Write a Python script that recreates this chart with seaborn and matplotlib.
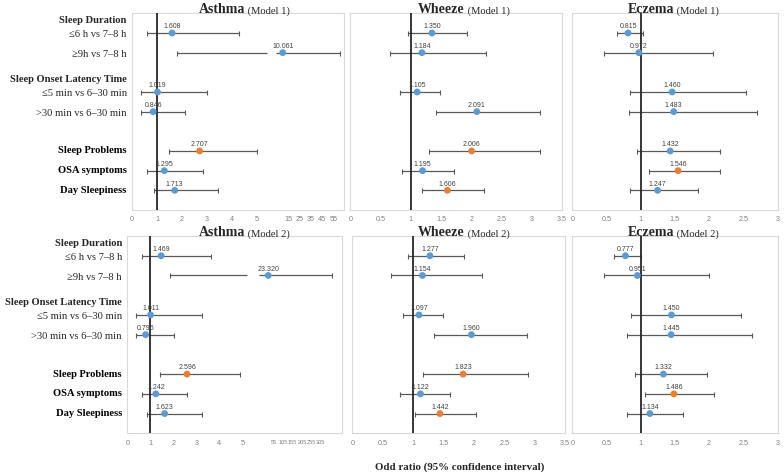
import numpy as np
import pandas as pd
import seaborn as sns
import matplotlib.pyplot as plt
from matplotlib import font_manager

# row labels, grouped the way the figure groups them (None = no group header)
group_names = ['Sleep Duration', 'Sleep Onset Latency Time', None]
group_items = [['≤6 h vs 7–8 h', '≥9h vs 7–8 h'],
               ['≤5 min vs 6–30 min', '>30 min vs 6–30 min'],
               ['Sleep Problems', 'OSA symptoms', 'Day Sleepiness']]

# odds ratios, 95% CI bounds and significance flag (orange) for every panel
asthma_m1_or = [1.608, 10.061, 1.019, 0.846, 2.707, 1.295, 1.713]
asthma_m1_lo = [0.61, 1.81, 0.35, 0.35, 1.48, 0.61, 0.88]
asthma_m1_hi = [4.27, 60.7, 3.01, 2.13, 4.99, 2.85, 3.44]
asthma_m1_sig = [0, 0, 0, 0, 1, 0, 0]

wheeze_m1_or = [1.350, 1.184, 1.105, 2.091, 2.006, 1.195, 1.606]
wheeze_m1_lo = [0.96, 0.66, 0.82, 1.41, 1.30, 0.85, 1.18]
wheeze_m1_hi = [1.93, 2.24, 1.49, 3.13, 3.13, 1.71, 2.21]
wheeze_m1_sig = [0, 0, 0, 0, 1, 0, 1]

eczema_m1_or = [0.815, 0.972, 1.460, 1.483, 1.432, 1.546, 1.247]
eczema_m1_lo = [0.65, 0.46, 0.84, 0.83, 0.95, 1.12, 0.84]
eczema_m1_hi = [1.04, 2.06, 2.54, 2.70, 2.16, 2.16, 1.84]
eczema_m1_sig = [0, 0, 0, 0, 0, 1, 0]

asthma_m2_or = [1.469, 23.320, 1.011, 0.795, 2.596, 1.242, 1.623]
asthma_m2_lo = [0.63, 1.84, 0.36, 0.36, 1.42, 0.63, 0.87]
asthma_m2_hi = [3.65, 364, 3.25, 2.03, 4.90, 2.61, 3.25]
asthma_m2_sig = [0, 0, 0, 0, 1, 0, 0]

wheeze_m2_or = [1.277, 1.154, 1.097, 1.960, 1.823, 1.122, 1.442]
wheeze_m2_lo = [0.91, 0.63, 0.83, 1.34, 1.16, 0.79, 1.03]
wheeze_m2_hi = [1.83, 2.14, 1.49, 2.87, 2.89, 1.61, 2.03]
wheeze_m2_sig = [0, 0, 0, 0, 1, 0, 1]

eczema_m2_or = [0.777, 0.951, 1.450, 1.445, 1.332, 1.486, 1.134]
eczema_m2_lo = [0.61, 0.46, 0.86, 0.80, 0.91, 1.07, 0.80]
eczema_m2_hi = [1.00, 2.00, 2.46, 2.62, 1.97, 2.07, 1.62]
eczema_m2_sig = [0, 0, 0, 0, 0, 1, 0]

asthma_m1_ticks = [0, 1, 2, 3, 4, 5, 15, 25, 35, 45, 55]
asthma_m2_ticks = [0, 1, 2, 3, 4, 5, 55, 105, 155, 205, 255, 305]
wheeze_ticks = [0, 0.5, 1, 1.5, 2, 2.5, 3, 3.5]
eczema_ticks = [0, 0.5, 1, 1.5, 2, 2.5, 3]

BLUE = '#5B9BD5'
ORANGE = '#ED7D31'

sns.set_style('white')
names = {f.name for f in font_manager.fontManager.ttflist}
tick_font = 'Liberation Sans Narrow' if 'Liberation Sans Narrow' in names else 'Liberation Sans'
serif = 'Liberation Serif'


def broken_scale(kx, kp):
    # piecewise linear axis: linear up to 5, compressed above (Excel style break)
    kx = np.asarray(kx, float)
    kp = np.asarray(kp, float)
    return (lambda v: np.interp(v, kx, kp), lambda p: np.interp(p, kp, kx))


scale_m1 = broken_scale([-100, 0, 5, 6, 1000], [-100, 0, 5, 5.85, 5.85 + 0.0455 * 994])
scale_m2 = broken_scale([-100, 0, 5, 6, 10000], [-100, 0, 5, 5.99, 5.99 + 0.00808 * 9994])

# work out the row slots: a blank row between groups
labels, bold, rows, headers = [], [], [], []
slot = 0
for gname, items in zip(group_names, group_items):
    if gname:
        headers.append((gname, slot - 0.6))
    for it in items:
        labels.append(it)
        bold.append(gname is None)
        rows.append(slot)
        slot += 1
    slot += 1

panels = [
    # name, model, or, lo, hi, sig, ticks, xlim, scale, gap, box(px: left, right, top, bottom), title x
    ('Asthma', 1, asthma_m1_or, asthma_m1_lo, asthma_m1_hi, asthma_m1_sig, asthma_m1_ticks, (0, 64), scale_m1, (5.46, 5.91), (132, 344, 13.3, 210), 0.316),
    ('Wheeze', 1, wheeze_m1_or, wheeze_m1_lo, wheeze_m1_hi, wheeze_m1_sig, wheeze_ticks, (0, 3.5), None, None, (350.3, 562, 13.3, 210), 0.32),
    ('Eczema', 1, eczema_m1_or, eczema_m1_lo, eczema_m1_hi, eczema_m1_sig, eczema_ticks, (0, 3), None, None, (572.3, 777.5, 13.3, 210), 0.27),
    ('Asthma', 2, asthma_m2_or, asthma_m2_lo, asthma_m2_hi, asthma_m2_sig, asthma_m2_ticks, (0, 422), scale_m2, (5.23, 5.74), (127.3, 342.3, 236, 433.3), 0.333),
    ('Wheeze', 2, wheeze_m2_or, wheeze_m2_lo, wheeze_m2_hi, wheeze_m2_sig, wheeze_ticks, (0, 3.5), None, None, (352.3, 565, 236, 433.3), 0.309),
    ('Eczema', 2, eczema_m2_or, eczema_m2_lo, eczema_m2_hi, eczema_m2_sig, eczema_ticks, (0, 3), None, None, (572.3, 777.5, 236, 433.3), 0.27),
]

W, H = 784, 475
fig = plt.figure(figsize=(W / 100, H / 100), dpi=100)

for (name, model, ors, lo, hi, sig, ticks, xlim, scale, gap, box, tx) in panels:
    l, r, t, b = box
    ax = fig.add_axes([l / W, 1 - b / H, (r - l) / W, (b - t) / H])
    df = pd.DataFrame({'or': ors, 'lo': lo, 'hi': hi, 'sig': sig, 'row': rows})

    if scale is not None:
        ax.set_xscale('function', functions=scale)

    ax.errorbar(df['or'], df['row'], xerr=[df['or'] - df['lo'], df['hi'] - df['or']],
                fmt='none', ecolor='#595959', elinewidth=0.9, capsize=1.8, capthick=0.8, zorder=2)
    if gap is not None:
        for _, rw in df[(df['lo'] < gap[0]) & (df['hi'] > gap[1])].iterrows():
            ax.plot(gap, [rw['row'], rw['row']], color='white', lw=2.5,
                    solid_capstyle='butt', zorder=2.5)
    ax.axvline(1, color='#262626', lw=1.3, zorder=3)
    sns.scatterplot(data=df, x='or', y='row', hue='sig', palette={0: BLUE, 1: ORANGE},
                    s=24, linewidth=0, marker='o', legend=False, ax=ax, zorder=4)
    for _, rw in df.iterrows():
        ax.annotate(f"{rw['or']:.3f}", (rw['or'], rw['row']), xytext=(0, 4.4),
                    textcoords='offset points', ha='center', va='center',
                    fontsize=5.0, color='#404040', family=tick_font, zorder=5)

    ax.set_xlim(*xlim)
    ax.set_ylim(9, -1)
    ax.set_xticks(ticks)
    ax.set_xticklabels([f'{v:g}' for v in ticks])
    ax.set_yticks(range(0, 9))
    ax.set_yticklabels([])
    ax.set_xlabel('')
    ax.set_ylabel('')
    ax.tick_params(axis='both', direction='out', length=2.5, width=0.7, color='#BFBFBF',
                   labelsize=5.2, labelcolor='#808080', pad=2)
    for tl, v in zip(ax.get_xticklabels(), ticks):
        tl.set_family(tick_font)
        if xlim[1] > 100 and v > 5:
            tl.set_fontsize(4.1)
    for sp in ax.spines.values():
        sp.set_color('#D9D9D9')
        sp.set_linewidth(0.8)

    # title: bold outcome name plus regular model tag
    tt = ax.text(tx, 1.0, name, transform=ax.transAxes, ha='left', va='baseline',
                 fontsize=10, fontweight='bold', family=serif)
    ax.annotate(f' (Model {model})', xy=(1, 0), xycoords=tt, ha='left', va='bottom',
                fontsize=7.6, family=serif)

    # row labels on the left-hand column only
    if name == 'Asthma':
        trans = ax.get_yaxis_transform()
        for txt, yy in headers:
            ax.text(-0.025, yy - 0.02, txt, transform=trans, ha='right', va='center',
                    fontsize=7.6, fontweight='bold', family=serif)
        for txt, yy, bb in zip(labels, rows, bold):
            ax.text(-0.025, yy + (0 if bb else 0.1), txt, transform=trans, ha='right', va='center',
                    fontsize=7.6, fontweight='bold' if bb else 'normal',
                    color='black' if bb else '#262626', family=serif)

fig.text(460 / W, 1 - 467 / H, 'Odd ratio (95% confidence interval)', ha='center', va='center',
         fontsize=7.8, fontweight='bold', family=serif)

fig.savefig('out.png', dpi=100, facecolor='white')
